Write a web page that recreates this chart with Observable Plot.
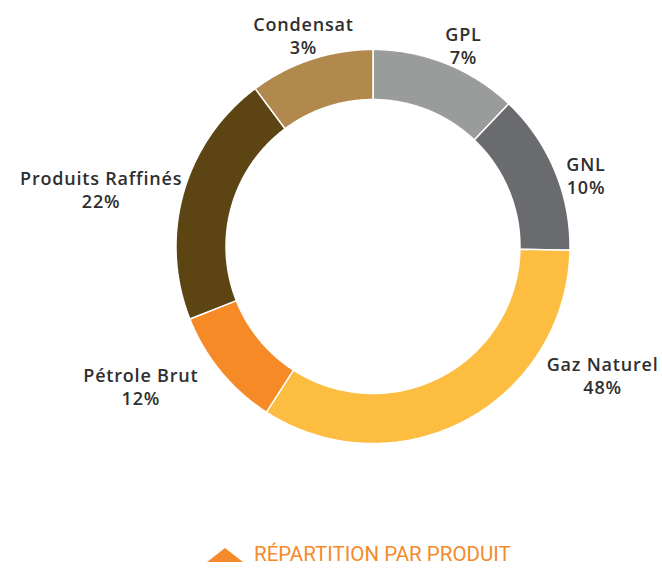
<!DOCTYPE html>
<html>
<head>
<meta charset="utf-8">
<script src="https://cdn.jsdelivr.net/npm/d3@7"></script>
<script src="https://cdn.jsdelivr.net/npm/@observablehq/plot@0.6"></script>
<style>
  html, body { margin: 0; padding: 0; background: #fff; }
  #wrap { position: relative; width: 662px; height: 568px; }
  #chart { position: absolute; left: 0; top: 0; }
  #chart svg text { letter-spacing: 0.8px; }
  #caption .tri { position: absolute; left: 207px; top: 548px; width: 0; height: 0; border-left: 18px solid transparent; border-right: 18px solid transparent; border-bottom: 14px solid #f48a2b; }
  #caption .txt { position: absolute; left: 254px; top: 543.7px; font-family: Roboto, "Open Sans", sans-serif; font-size: 20.5px; line-height: 20.5px; color: #f48a2b; white-space: nowrap; }
</style>
</head>
<body>
<div id="wrap">
  <div id="chart"></div>
  <div id="caption"><div class="tri"></div><div class="txt">RÉPARTITION PAR PRODUIT</div></div>
</div>
<script>
// ---- data ----
const categories = ["GPL", "GNL", "Gaz Naturel", "Pétrole Brut", "Produits Raffinés", "Condensat"];
const shareLabels = ["7%", "10%", "48%", "12%", "22%", "3%"];
// arc sizes as drawn in the picture (percent of the ring)
const arcShares = [12.1, 13.2, 33.8, 9.9, 20.8, 10.2];
const colors = ["#999c9b", "#6a6b6e", "#fdbd40", "#f58a27", "#5c4413", "#b1894d"];

// ---- layout ----
const W = 662, H = 530;
const cx = 372.5, cy = 246, R = 197;      // centre and outer radius in px
const inner = 0.746;                       // inner radius / outer radius
// label placement: [angle in degrees clockwise from 12 o'clock, radius relative to outer]
const labelPlace = {
  "GPL": [24.2, 1.12],
  "GNL": [71.5, 1.14],
  "Gaz Naturel": [119.2, 1.335],
  "Pétrole Brut": [238.9, 1.376],
  "Produits Raffinés": [282, 1.411],
  "Condensat": [341.8, 1.13]
};

const rows = categories.map((name, i) => ({name, share: arcShares[i], label: shareLabels[i]}));
const arcs = d3.pie().sort(null).value(d => d.share)(rows);

const ringPts = [];
for (const a of arcs) {
  const n = Math.max(2, Math.ceil((a.endAngle - a.startAngle) / (Math.PI / 360)) + 1);
  const outer = [], inn = [];
  for (let k = 0; k < n; k++) {
    const t = a.startAngle + (a.endAngle - a.startAngle) * k / (n - 1);
    outer.push({name: a.data.name, x: Math.sin(t), y: -Math.cos(t)});
    inn.push({name: a.data.name, x: inner * Math.sin(t), y: -inner * Math.cos(t)});
  }
  ringPts.push(...outer, ...inn.reverse());
}

const labelRows = rows.map(d => {
  const [deg, r] = labelPlace[d.name];
  const t = deg * Math.PI / 180;
  return {name: d.name, text: d.name + "\n" + d.label, x: r * Math.sin(t), y: -r * Math.cos(t)};
});

const chart = Plot.plot({
  width: W,
  height: H,
  margin: 0,
  x: {domain: [-cx / R, (W - cx) / R], range: [0, W], axis: null},
  y: {domain: [-cy / R, (H - cy) / R], range: [0, H], axis: null},
  color: {domain: categories, range: colors},
  style: {background: "white"},
  marks: [
    Plot.line(ringPts, {x: "x", y: "y", z: "name", fill: "name", stroke: "white", strokeWidth: 1.5, strokeLinejoin: "miter", curve: "linear-closed"}),
    Plot.text(labelRows, {
      x: "x", y: "y", text: "text",
      fontSize: 18, fontWeight: 600, fontFamily: "'Open Sans', sans-serif",
      fill: "#2f2f2f", lineHeight: 1.28
    })
  ]
});
document.getElementById("chart").appendChild(chart);
</script>
</body>
</html>
